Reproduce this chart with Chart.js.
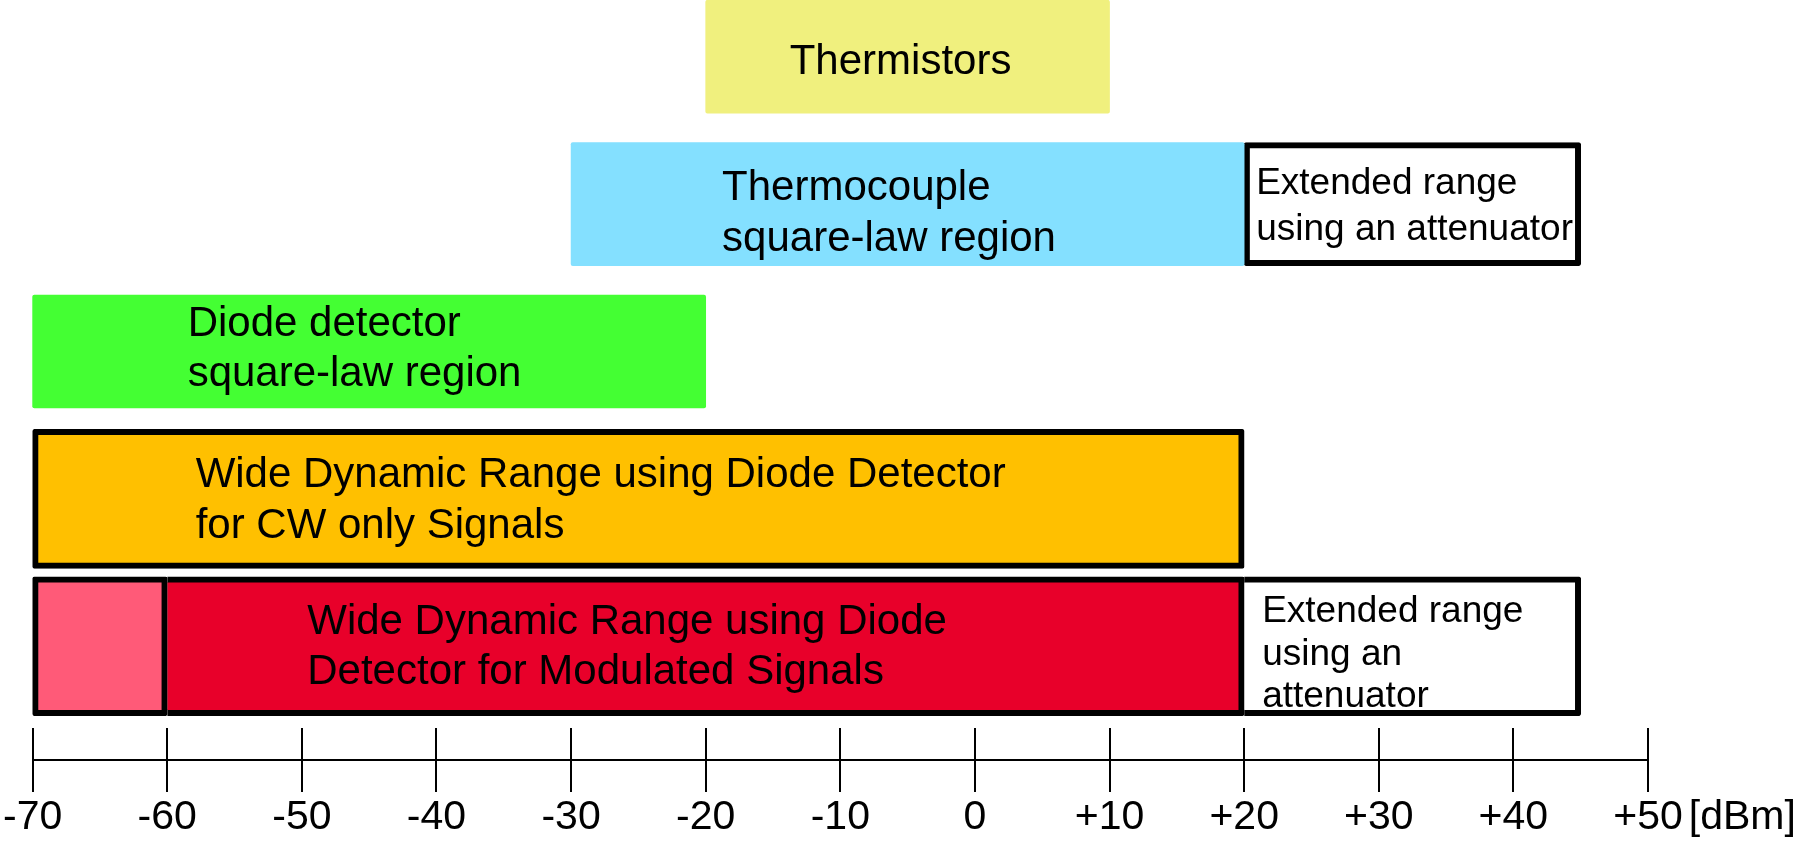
<!DOCTYPE html>
<html>
<head>
<meta charset="utf-8">
<title>Power sensor dynamic ranges</title>
<script src="https://cdn.jsdelivr.net/npm/chart.js@4.4.1/dist/chart.umd.min.js"></script>
<style>
  html, body { margin: 0; padding: 0; background: #fff; }
  .chartBox { position: relative; width: 1796px; height: 843px; }
</style>
</head>
<body>
<div class="chartBox"><canvas id="rangeChart"></canvas></div>
<script>
// rows from top to bottom, ranges in dBm
const sensorRows = ['Thermistors', 'Thermocouple', 'Diode detector', 'Diode CW', 'Diode modulated'];
const rangeStart = [-20, -30, -70, -70, -60];
const rangeEnd = [10, 20, -20, 20, 20];

// part of the modulated range below -60 dBm
const lowStart = [null, null, null, null, -70];
const lowEnd = [null, null, null, null, -60];

// extended range using an attenuator
const extStart = [null, 20, null, null, 20];
const extEnd = [null, 45, null, null, 45];

const rangeText = [
  ['Thermistors'],
  ['Thermocouple', 'square-law region'],
  ['Diode detector', 'square-law region'],
  ['Wide Dynamic Range using Diode Detector', 'for CW only Signals'],
  ['Wide Dynamic Range using Diode', 'Detector for Modulated Signals'],
];
const extText = [null, ['Extended range', 'using an attenuator'], null, null, ['Extended range', 'using an', 'attenuator']];

const tickValues = [-70, -60, -50, -40, -30, -20, -10, 0, 10, 20, 30, 40, 50];
const tickLabels = ['-70', '-60', '-50', '-40', '-30', '-20', '-10', '0', '+10', '+20', '+30', '+40', '+50'];
const axisUnit = '[dBm]';

// styling
const FONT = "'Liberation Sans', Arial, sans-serif";
const rowColors = ['#F0F07E', '#84E0FF', '#44FF33', '#FFC000', '#E8002A'];
const lowColor = '#FF5A78';
const rowBorders = [0, 0, 0, 6, 6];
const extBorder = 6;
const rowThickness = [113, 123, 113, 139, 139];
const textPos = [
  { dx: 84, dy: 17, gap: 50, size: 42 },
  { dx: 151, dy: -4, gap: 51, size: 42 },
  { dx: 155, dy: -15, gap: 50, size: 42 },
  { dx: 163, dy: -12, gap: 51, size: 42 },
  { dx: 140, dy: -12, gap: 50, size: 42 },
];
const extTextPos = [null, { dx: 12, dy: -10, gap: 46, size: 37 }, null, null, { dx: 18, dy: -24, gap: 42.5, size: 37 }];


function buildDatasets() {
  const datasets = [];

  sensorRows.forEach((name, i) => {
    const common = {
      grouped: false,
      barPercentage: 1,
      categoryPercentage: 1,
      maxBarThickness: rowThickness[i],
      borderColor: '#000',
      borderRadius: 2,
      clip: false,
      row: i,
    };
    const hasLow = lowStart[i] !== null;

    if (hasLow) {
      datasets.push({
        ...common,
        label: name + ' (below -60)',
        role: 'low',
        data: [{ y: i, x: [lowStart[i], lowEnd[i]] }],
        backgroundColor: lowColor,
        borderWidth: rowBorders[i],
        borderSkipped: false,
      });
    }

    // a floating bar on the negative side is drawn from its end nearer zero,
    // so 'end' here is the left edge (shared with the low part)
    datasets.push({
      ...common,
      label: name,
      role: 'main',
      data: [{ y: i, x: [rangeStart[i], rangeEnd[i]] }],
      backgroundColor: rowColors[i],
      borderWidth: rowBorders[i],
      borderSkipped: hasLow ? 'end' : false,
    });

    if (extStart[i] !== null) {
      datasets.push({
        ...common,
        label: name + ' extended',
        role: 'ext',
        data: [{ y: i, x: [extStart[i], extEnd[i]] }],
        backgroundColor: '#FFFFFF',
        borderWidth: extBorder,
        borderSkipped: rowBorders[i] > 0 ? 'left' : false,
      });
    }
  });

  return datasets;
}


// text written inside the bars
const barTextPlugin = {
  id: 'barText',
  afterDatasetsDraw(chart) {
    const ctx = chart.ctx;
    ctx.save();
    ctx.fillStyle = '#000';
    ctx.textAlign = 'left';
    ctx.textBaseline = 'alphabetic';

    chart.data.datasets.forEach((ds, di) => {
      let lines = null;
      let pos = null;
      if (ds.role === 'main') {
        lines = rangeText[ds.row];
        pos = textPos[ds.row];
      } else if (ds.role === 'ext') {
        lines = extText[ds.row];
        pos = extTextPos[ds.row];
      }
      if (!lines) return;

      const bar = chart.getDatasetMeta(di).data[0];
      const { x, y, base } = bar.getProps(['x', 'y', 'base'], true);
      ctx.font = `${pos.size}px ${FONT}`;
      lines.forEach((line, k) => {
        ctx.fillText(line, Math.min(x, base) + pos.dx, y + pos.dy + k * pos.gap);
      });
    });

    ctx.restore();
  }
};

// horizontal axis line through the tick marks, plus the unit
const axisLinePlugin = {
  id: 'axisLine',
  afterDraw(chart) {
    const xs = chart.scales.x;
    const ctx = chart.ctx;
    const tickLen = xs.options.grid.tickLength;
    const tickFont = xs.options.ticks.font;
    const first = xs.getPixelForValue(tickValues[0]);
    const last = xs.getPixelForValue(tickValues[tickValues.length - 1]);
    const midY = Math.round(xs.top + tickLen / 2);

    ctx.save();
    ctx.strokeStyle = '#000';
    ctx.lineWidth = 2;
    ctx.beginPath();
    ctx.moveTo(first, midY);
    ctx.lineTo(last, midY);
    ctx.stroke();

    ctx.font = `${tickFont.size}px ${FONT}`;
    ctx.fillStyle = '#000';
    ctx.textAlign = 'left';
    ctx.textBaseline = 'middle';
    const lastW = ctx.measureText(tickLabels[tickLabels.length - 1]).width;
    const labelY = xs.top + tickLen + xs.options.ticks.padding + tickFont.size * tickFont.lineHeight / 2;
    ctx.fillText(axisUnit, last + lastW / 2 + 6, labelY);
    ctx.restore();
  }
};


function drawRangeChart() {
  const ctx = document.getElementById('rangeChart').getContext('2d');

  new Chart(ctx, {
    type: 'bar',
    data: { datasets: buildDatasets() },
    options: {
      indexAxis: 'y',
      responsive: true,
      maintainAspectRatio: false,
      devicePixelRatio: 1,
      animation: false,
      events: [],
      layout: { padding: { left: 32, right: 148, top: 0, bottom: 0 } },
      plugins: {
        legend: { display: false },
        tooltip: { enabled: false },
      },
      scales: {
        x: {
          type: 'linear',
          position: 'bottom',
          min: tickValues[0],
          max: tickValues[tickValues.length - 1],
          border: { display: false },
          grid: {
            display: true,
            drawOnChartArea: false,
            drawTicks: true,
            tickLength: 64,
            color: '#000',
            lineWidth: 2,
          },
          ticks: {
            stepSize: 10,
            autoSkip: false,
            maxRotation: 0,
            padding: 3,
            color: '#000',
            font: { family: FONT, size: 41, lineHeight: 1.1 },
            callback: (value) => {
              const idx = tickValues.indexOf(value);
              return idx >= 0 ? tickLabels[idx] : '';
            },
          },
        },
        y: {
          type: 'linear',
          display: false,
          reverse: true,
          offset: false,
          grid: { offset: false },
          min: -0.385,
          max: 4.554,
          afterBuildTicks: (scale) => {
            scale.ticks = sensorRows.map((_, i) => ({ value: i }));
          },
        },
      },
    },
    plugins: [barTextPlugin, axisLinePlugin],
  });
}

document.addEventListener('DOMContentLoaded', () => {
  drawRangeChart();
});
</script>
</body>
</html>
